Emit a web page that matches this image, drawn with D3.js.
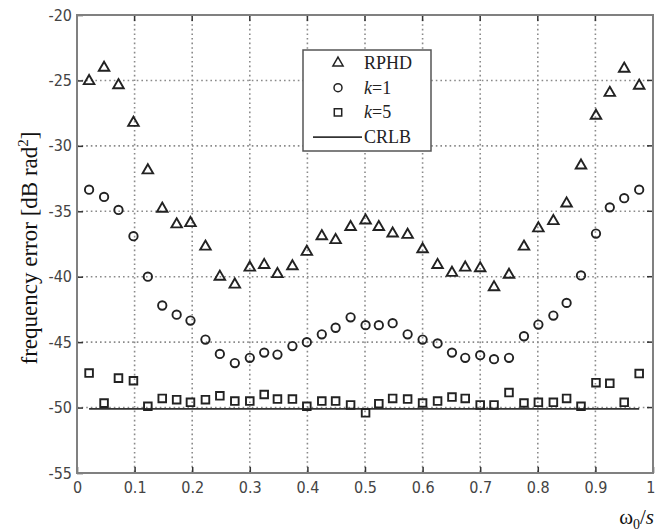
<!DOCTYPE html>
<html>
<head>
<meta charset="utf-8">
<script src="https://cdn.jsdelivr.net/npm/d3@7"></script>
<style>
  body { margin: 0; background: #fff; }
  svg { display: block; }
  .tick text { font-family: "DejaVu Sans Condensed", "DejaVu Sans", sans-serif; fill: #444; }
</style>
</head>
<body>
<svg id="chart" width="655" height="531"></svg>
<script>
// omega_0 / s sample positions
var xs = [0.021, 0.047, 0.072, 0.098, 0.123, 0.148, 0.173, 0.197, 0.223, 0.248,
          0.274, 0.300, 0.325, 0.348, 0.374, 0.399, 0.425, 0.449, 0.475, 0.501,
          0.524, 0.548, 0.574, 0.600, 0.626, 0.651, 0.674, 0.700, 0.724, 0.750,
          0.776, 0.801, 0.827, 0.850, 0.875, 0.901, 0.925, 0.950, 0.976];

var rphd = [-25.05, -24.03, -25.36, -28.24, -31.87, -34.8, -36.0, -35.9, -37.7, -40.0,
            -40.6, -39.3, -39.1, -39.8, -39.2, -38.1, -36.9, -37.2, -36.2, -35.7,
            -36.2, -36.7, -36.8, -37.9, -39.1, -39.7, -39.3, -39.35, -40.8, -39.85,
            -37.7, -36.3, -35.75, -34.4, -31.5, -27.7, -25.95, -24.1, -25.4];

var k1 = [-33.35, -33.9, -34.9, -36.9, -40.0, -42.2, -42.9, -43.35, -44.8, -45.9,
          -46.6, -46.2, -45.8, -45.95, -45.3, -45.0, -44.4, -43.9, -43.1, -43.7,
          -43.7, -43.55, -44.4, -44.8, -45.1, -45.8, -46.2, -46.0, -46.3, -46.2,
          -44.55, -43.66, -42.97, -42.0, -39.9, -36.7, -34.7, -34.0, -33.35];

var k5 = [-47.36, -49.66, -47.75, -47.95, -49.9, -49.3, -49.4, -49.6, -49.4, -49.1,
          -49.5, -49.5, -49.0, -49.35, -49.35, -49.9, -49.5, -49.5, -49.8, -50.4,
          -49.7, -49.3, -49.35, -49.65, -49.5, -49.2, -49.3, -49.8, -49.8, -48.85,
          -49.65, -49.6, -49.6, -49.3, -49.9, -48.1, -48.15, -49.6, -47.4];

var crlbX = [0.021, 0.976];
var crlbY = [-50.1, -50.1];

var xTicks = [0, 0.1, 0.2, 0.3, 0.4, 0.5, 0.6, 0.7, 0.8, 0.9, 1];
var yTicks = [-55, -50, -45, -40, -35, -30, -25, -20];

var legendItems = ["RPHD", "k=1", "k=5", "CRLB"];

var svg = d3.select("#chart");
var plotL = 77, plotR = 653, plotT = 15, plotB = 473;

var x = d3.scaleLinear().domain([0, 1]).range([plotL, plotR]);
var y = d3.scaleLinear().domain([-55, -20]).range([plotB, plotT]);

// grid
var grid = svg.append("g").attr("class", "grid")
    .attr("stroke", "#8a8a8a").attr("stroke-width", 1.6)
    .attr("stroke-dasharray", "1.6,3");
grid.selectAll(".vg").data(xTicks.slice(1, -1)).enter().append("line")
    .attr("x1", function(d) { return x(d); }).attr("x2", function(d) { return x(d); })
    .attr("y1", plotT).attr("y2", plotB);
grid.selectAll(".hg").data(yTicks.slice(1, -1)).enter().append("line")
    .attr("y1", function(d) { return y(d); }).attr("y2", function(d) { return y(d); })
    .attr("x1", plotL).attr("x2", plotR);

// axes (plain hyphen for negatives, like the matlab figure)
var xAxis = d3.axisBottom(x).tickValues(xTicks).tickSize(-6).tickPadding(9)
    .tickFormat(function(d) { return String(d); });
var gx = svg.append("g").attr("transform", "translate(0," + plotB + ")").call(xAxis);
var yAxis = d3.axisLeft(y).tickValues(yTicks).tickSize(-6).tickPadding(5)
    .tickFormat(function(d) { return String(d); });
var gy = svg.append("g").attr("transform", "translate(" + plotL + ",0)").call(yAxis);
[gx, gy].forEach(function(g) {
    g.select(".domain").remove();
    g.selectAll(".tick line").attr("stroke", "#333").attr("stroke-width", 1.5);
    g.selectAll(".tick text").attr("font-size", 16);
});
// last x label sits at the window edge
gx.selectAll(".tick text").filter(function(d) { return d === 1; })
    .attr("text-anchor", "end").attr("dx", 2);

// top / right ticks
svg.append("g").selectAll("line").data(xTicks).enter().append("line")
    .attr("x1", function(d) { return x(d); }).attr("x2", function(d) { return x(d); })
    .attr("y1", plotT).attr("y2", plotT + 6).attr("stroke", "#333").attr("stroke-width", 1.5);
svg.append("g").selectAll("line").data(yTicks).enter().append("line")
    .attr("y1", function(d) { return y(d); }).attr("y2", function(d) { return y(d); })
    .attr("x1", plotR).attr("x2", plotR - 6).attr("stroke", "#333").attr("stroke-width", 1.5);

// frame
svg.append("rect").attr("x", plotL).attr("y", plotT)
    .attr("width", plotR - plotL).attr("height", plotB - plotT)
    .attr("fill", "none").attr("stroke", "#808080").attr("stroke-width", 2);

// CRLB
var line = d3.line().x(function(d) { return x(d[0]); }).y(function(d) { return y(d[1]); });
svg.append("path").datum(d3.zip(crlbX, crlbY)).attr("d", line)
    .attr("fill", "none").attr("stroke", "#333").attr("stroke-width", 1.8);

function drawMarkers(vals, type, size) {
    svg.append("g").selectAll("path").data(d3.zip(xs, vals)).enter().append("path")
        .attr("d", d3.symbol().type(type).size(size))
        .attr("transform", function(d) { return "translate(" + x(d[0]) + "," + y(d[1]) + ")"; })
        .attr("fill", "none").attr("stroke", "#222").attr("stroke-width", 1.9);
}
drawMarkers(rphd, d3.symbolTriangle, 48);
drawMarkers(k1, d3.symbolCircle, 55);
drawMarkers(k5, d3.symbolSquare, 58);

// legend
var lg = svg.append("g").attr("class", "legend");
lg.append("rect").attr("x", 303).attr("y", 50).attr("width", 128).attr("height", 101)
    .attr("fill", "#fff").attr("stroke", "#555").attr("stroke-width", 1.5);
var legendTypes = [d3.symbolTriangle, d3.symbolCircle, d3.symbolSquare, null];
var legendSizes = [45, 50, 55, 0];
legendItems.forEach(function(name, i) {
    var cy = 63 + i * 24.7;
    if (legendTypes[i]) {
        lg.append("path").attr("d", d3.symbol().type(legendTypes[i]).size(legendSizes[i]))
            .attr("transform", "translate(338," + cy + ")")
            .attr("fill", "none").attr("stroke", "#222").attr("stroke-width", 1.5);
    } else {
        lg.append("line").attr("x1", 313).attr("x2", 362).attr("y1", cy).attr("y2", cy)
            .attr("stroke", "#333").attr("stroke-width", 1.6);
    }
    var t = lg.append("text").attr("x", 364).attr("y", cy + 6)
        .attr("font-family", "'Liberation Serif', 'Times New Roman', serif")
        .attr("font-size", 18).attr("fill", "#222");
    if (name.charAt(0) === "k") {
        t.append("tspan").attr("font-style", "italic").text("k");
        t.append("tspan").text(name.slice(1));
    } else {
        t.text(name);
    }
});

// y label
var yl = svg.append("text")
    .attr("transform", "translate(37,248) rotate(-90)")
    .attr("text-anchor", "middle")
    .attr("font-family", "'Liberation Serif', 'Times New Roman', serif")
    .attr("font-size", 23).attr("fill", "#111");
yl.append("tspan").text("frequency error [dB rad");
yl.append("tspan").attr("dy", -9).attr("font-size", 15).text("2");
yl.append("tspan").attr("dy", 9).text("]");

// x label
var xl = svg.append("text").attr("x", 654).attr("y", 524).attr("text-anchor", "end")
    .attr("font-family", "'Liberation Serif', 'Times New Roman', serif")
    .attr("font-size", 21).attr("fill", "#111");
xl.append("tspan").text("\u03c9");
xl.append("tspan").attr("dy", 5).attr("font-size", 14).text("0");
xl.append("tspan").attr("dy", -5).text("/");
xl.append("tspan").attr("font-style", "italic").text("s");
</script>
</body>
</html>
